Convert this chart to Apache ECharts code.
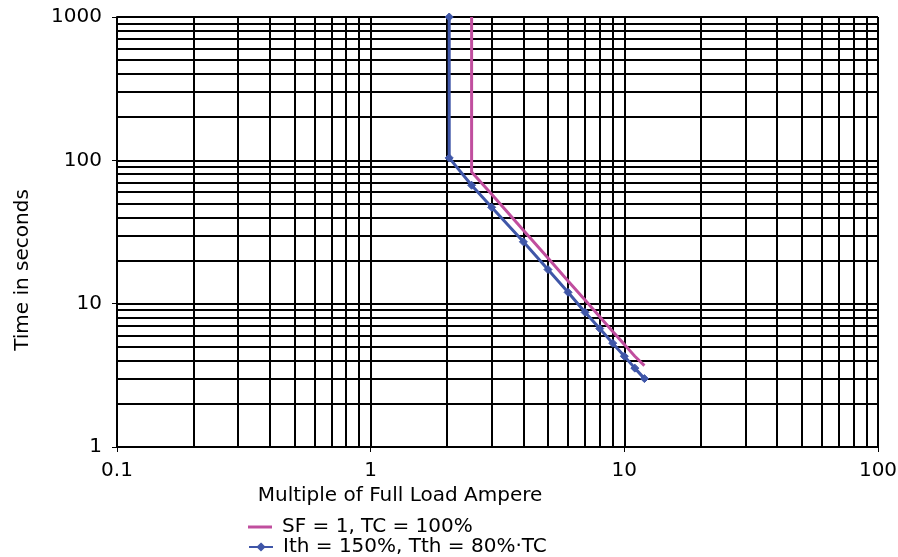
<!DOCTYPE html>
<html>
<head>
<meta charset="utf-8">
<script src="https://cdn.jsdelivr.net/npm/echarts@6/dist/echarts.min.js"></script>
<style>html,body{margin:0;padding:0;background:#fff}#c{width:898px;height:557px}</style>
</head>
<body>
<div id="c"></div>
<script>
// Data
var sfName = 'SF = 1, TC = 100%';
var sfCurrent = [2.5, 2.5, 3, 4, 5, 6, 7, 8, 9, 10, 11, 12];
var sfTime    = [1000, 83, 58, 32.5, 20.8, 14.4, 10.6, 8.1, 6.4, 5.2, 4.3, 3.7];

var ithName = 'Ith = 150%, Tth = 80%\u00b7TC';
var ithCurrent = [2.04, 2.04, 2.5, 3, 4, 5, 6, 7, 8, 9, 10, 11, 12];
var ithTime    = [1000, 104, 67, 47, 27, 17.3, 12, 8.7, 6.7, 5.3, 4.3, 3.55, 3.0];

var xTickLabels = ['0.1', '1', '10', '100'];
var yTickLabels = ['1', '10', '100', '1000'];
var xMinorGrid = [0.2,0.3,0.4,0.5,0.6,0.7,0.8,0.9, 2,3,4,5,6,7,8,9, 20,30,40,50,60,70,80,90];
var yMinorGrid = [2,3,4,5,6,7,8,9, 20,30,40,50,60,70,80,90, 200,300,400,500,600,700,800,900];

function zip(a, b) { return a.map(function (v, i) { return [v, b[i]]; }); }

var font = 'DejaVu Sans';
var fs = 20;
var gridLine = { color: '#000', width: 2, type: 'solid' };
var sfColor = '#C04E9E';
var ithColor = '#3F56A8';

var minorLines = xMinorGrid.map(function (v) { return { xAxis: v }; })
  .concat(yMinorGrid.map(function (v) { return { yAxis: v }; }));

var chart = echarts.init(document.getElementById('c'));
chart.setOption({
  animation: false,
  backgroundColor: '#fff',
  textStyle: { fontFamily: font },
  grid: { left: 117, right: 20, top: 17, bottom: 110, containLabel: false, outerBoundsMode: 'none' },
  xAxis: {
    type: 'log', logBase: 10, min: 0.1, max: 100,
    name: 'Multiple of Full Load Ampere',
    nameLocation: 'middle', nameGap: 39,
    nameTextStyle: { fontFamily: font, fontSize: fs, color: '#000', padding: [0, 195, 0, 0] },
    axisLine: { show: true, lineStyle: { color: '#000', width: 2 } },
    axisTick: { show: true, length: 5, lineStyle: { color: '#000', width: 1 } },
    axisLabel: {
      fontFamily: font, fontSize: fs, color: '#000', margin: 14,
      formatter: function (v) { var i = Math.round(Math.log10(v)) + 1; return xTickLabels[i]; }
    },
    splitLine: { show: true, lineStyle: gridLine }
  },
  yAxis: {
    type: 'log', logBase: 10, min: 1, max: 1000,
    name: 'Time in seconds',
    nameLocation: 'middle', nameGap: 84, nameRotate: 90,
    nameTextStyle: { fontFamily: font, fontSize: fs, color: '#000', padding: [0, 76, 0, 0] },
    axisLine: { show: true, lineStyle: { color: '#000', width: 2 } },
    axisTick: { show: true, length: 5, lineStyle: { color: '#000', width: 1 } },
    axisLabel: {
      fontFamily: font, fontSize: fs, color: '#000', margin: 15,
      formatter: function (v) { var i = Math.round(Math.log10(v)); return yTickLabels[i]; }
    },
    splitLine: { show: true, lineStyle: gridLine }
  },
  legend: [
    {
      left: 248, top: 517, icon: 'rect',
      itemWidth: 24, itemHeight: 3, itemGap: 0, padding: 0,
      textStyle: { fontFamily: font, fontSize: fs, color: '#000', lineHeight: 20, padding: [0, 0, 0, 5] },
      data: [sfName]
    },
    {
      left: 248, top: 537,
      itemWidth: 24, itemHeight: 8, itemGap: 0, padding: 0,
      textStyle: { fontFamily: font, fontSize: fs, color: '#000', lineHeight: 20, padding: [0, 0, 0, 5] },
      data: [ithName]
    }
  ],
  series: [
    {
      name: sfName, type: 'line', data: zip(sfCurrent, sfTime),
      showSymbol: false, symbol: 'none',
      lineStyle: { color: sfColor, width: 3 },
      itemStyle: { color: sfColor },
      markLine: {
        silent: true, symbol: 'none', label: { show: false },
        lineStyle: gridLine, z: 1,
        data: minorLines
      },
      z: 3
    },
    {
      name: ithName, type: 'line', data: zip(ithCurrent, ithTime),
      symbol: 'diamond', symbolSize: 8, showAllSymbol: true,
      lineStyle: { color: ithColor, width: 3 },
      itemStyle: { color: ithColor, borderColor: ithColor, borderWidth: 1 },
      z: 4
    }
  ]
});
</script>
</body>
</html>
